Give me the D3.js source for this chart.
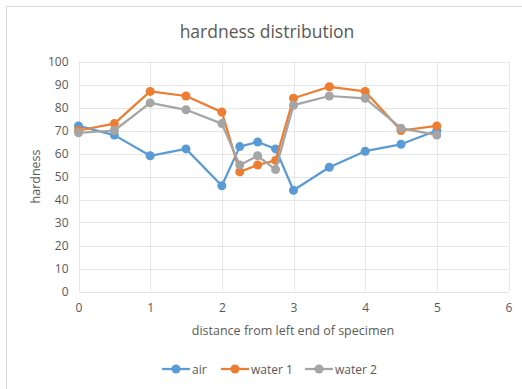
<!DOCTYPE html>
<html>
<head>
<meta charset="utf-8">
<script src="https://cdn.jsdelivr.net/npm/d3@7"></script>
<style>
  html, body { margin: 0; padding: 0; background: #fff; }
  svg { display: block; }
  text { font-family: "Open Sans", "Noto Sans", sans-serif; fill: #595959; }
</style>
</head>
<body>
<svg id="chart" width="522" height="389"></svg>
<script>
// Measurement positions along the specimen
const distances = [0, 0.5, 1, 1.5, 2, 2.25, 2.5, 2.75, 3, 3.5, 4, 4.5, 5];

// Hardness readings for each quench condition
const air    = [72, 68, 59, 62, 46, 63, 65, 62, 44, 54, 61, 64, 70];
const water1 = [70, 73, 87, 85, 78, 52, 55, 57, 84, 89, 87, 70, 72];
const water2 = [69, 70, 82, 79, 73, 55, 59, 53, 81, 85, 84, 71, 68];

const seriesNames = ["air", "water 1", "water 2"];
const seriesColors = ["#5B9BD5", "#ED7D31", "#A5A5A5"];

const xTicks = [0, 1, 2, 3, 4, 5, 6];
const yTicks = [0, 10, 20, 30, 40, 50, 60, 70, 80, 90, 100];

const series = [air, water1, water2].map((vals, i) => ({
  name: seriesNames[i],
  color: seriesColors[i],
  points: vals.map((v, j) => ({ x: distances[j], y: v }))
}));

const svg = d3.select("#chart");

// Chart frame
svg.append("rect")
  .attr("x", 6.5).attr("y", 6.5)
  .attr("width", 530).attr("height", 400)
  .attr("fill", "#fff")
  .attr("stroke", "#D9D9D9").attr("stroke-width", 1);

const plot = { left: 78.5, right: 508.5, top: 61.5, bottom: 291.5 };

const x = d3.scaleLinear().domain([0, 6]).range([plot.left, plot.right]);
const y = d3.scaleLinear().domain([0, 100]).range([plot.bottom, plot.top]);

// Gridlines
const grid = svg.append("g");
grid.selectAll("line.h").data(yTicks).join("line")
  .attr("x1", plot.left).attr("x2", plot.right)
  .attr("y1", d => Math.round(y(d)) + 0.5).attr("y2", d => Math.round(y(d)) + 0.5)
  .attr("stroke", "#E6E6E6").attr("stroke-width", 1);
grid.selectAll("line.v").data(xTicks).join("line")
  .attr("y1", plot.top).attr("y2", plot.bottom)
  .attr("x1", d => Math.round(x(d)) + 0.5).attr("x2", d => Math.round(x(d)) + 0.5)
  .attr("stroke", "#E6E6E6").attr("stroke-width", 1);

// Axes (labels only)
const xAxis = svg.append("g")
  .attr("transform", `translate(0,${plot.bottom})`)
  .call(d3.axisBottom(x).tickValues(xTicks).tickFormat(d3.format("d")).tickSize(0).tickPadding(12));
xAxis.select(".domain").remove();
xAxis.selectAll("text").attr("font-size", 12).attr("fill", "#595959")
  .style("font-family", '"Open Sans", "Noto Sans", sans-serif');

const yAxis = svg.append("g")
  .attr("transform", `translate(${plot.left},0)`)
  .call(d3.axisLeft(y).tickValues(yTicks).tickFormat(d3.format("d")).tickSize(0).tickPadding(10));
yAxis.select(".domain").remove();
yAxis.selectAll("text").attr("font-size", 12).attr("fill", "#595959")
  .style("font-family", '"Open Sans", "Noto Sans", sans-serif');

// Title
svg.append("text")
  .attr("x", 267).attr("y", 38)
  .attr("text-anchor", "middle")
  .attr("font-size", 17.5)
  .text("hardness distribution");

// Axis titles
svg.append("text")
  .attr("x", 293).attr("y", 335)
  .attr("text-anchor", "middle")
  .attr("font-size", 12.5)
  .text("distance from left end of specimen");

svg.append("text")
  .attr("transform", `translate(40,${(plot.top + plot.bottom) / 2}) rotate(-90)`)
  .attr("text-anchor", "middle")
  .attr("font-size", 12.5)
  .text("hardness");

// Series lines and markers
const line = d3.line().x(d => x(d.x)).y(d => y(d.y));

const sg = svg.append("g").selectAll("g").data(series).join("g");
sg.append("path")
  .attr("d", d => line(d.points))
  .attr("fill", "none")
  .attr("stroke", d => d.color)
  .attr("stroke-width", 2.25)
  .attr("stroke-linejoin", "round");
sg.each(function (d) {
  d3.select(this).selectAll("circle").data(d.points).join("circle")
    .attr("cx", p => x(p.x)).attr("cy", p => y(p.y))
    .attr("r", 4.5)
    .attr("fill", d.color);
});

// Legend
const legendX = [162, 221, 305];
const legendY = 369;
const lg = svg.append("g").selectAll("g").data(series).join("g")
  .attr("transform", (d, i) => `translate(${legendX[i]},${legendY})`);
lg.append("line")
  .attr("x1", 0).attr("x2", 28).attr("y1", 0).attr("y2", 0)
  .attr("stroke", d => d.color).attr("stroke-width", 2.25);
lg.append("circle")
  .attr("cx", 14).attr("cy", 0).attr("r", 4.5)
  .attr("fill", d => d.color);
lg.append("text")
  .attr("x", 30).attr("y", 4.5)
  .attr("font-size", 12)
  .text(d => d.name);
</script>
</body>
</html>
